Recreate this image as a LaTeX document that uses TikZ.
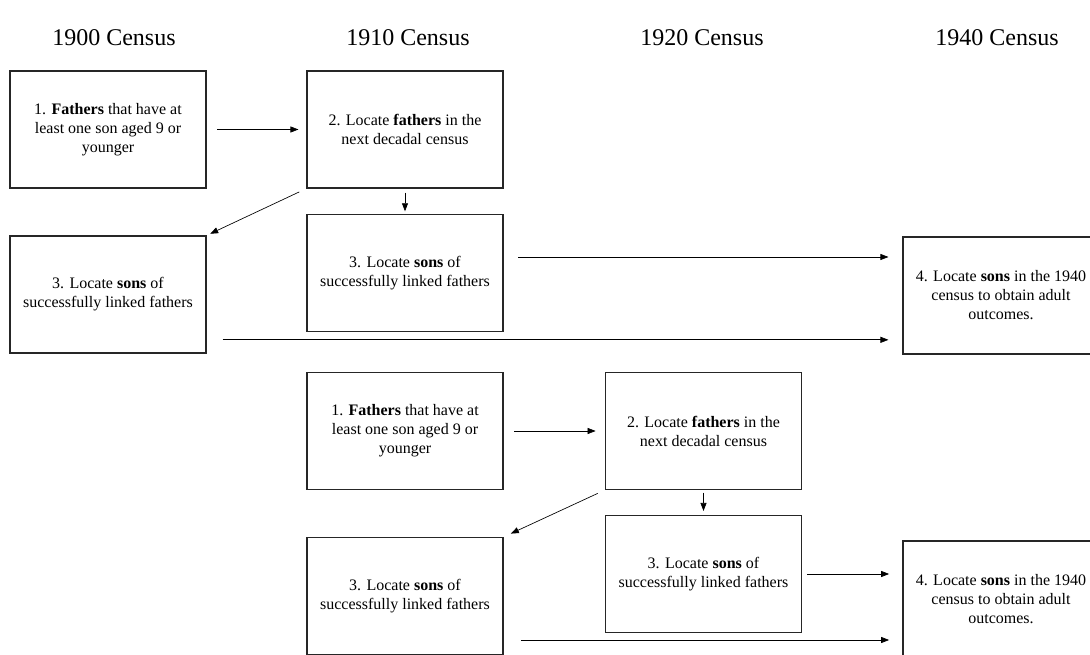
\documentclass[tikz,border=0pt]{standalone}
\usepackage{fontspec}
\setmainfont{Liberation Serif}
\usetikzlibrary{arrows.meta, positioning, calc}

\begin{document}
\begin{tikzpicture}[x=0.75pt, y=-0.75pt, >={Triangle[length=6pt, width=4.5pt]},
    stepbox/.style={draw=black!85, line width=0.8pt, minimum width=147pt, minimum height=87.75pt, inner sep=0pt, align=center, font=\fontsize{12}{14.25}\selectfont},
    year/.style={font=\fontsize{18}{20}\selectfont},
    flow/.style={->, line width=0.5pt}]
    \useasboundingbox (0, 0) rectangle (1090, 655);

    \node[year] (y1900) at (114, 38) {1900 Census};
    \node[year] (y1910) at (408, 38) {1910 Census};
    \node[year] (y1920) at (702, 38) {1920 Census};
    \node[year] (y1940) at (997, 38) {1940 Census};

    % 1900 fathers
    \node[stepbox] (fathersA) at (108, 129.5) {1. \textbf{Fathers} that have at\\least one son aged 9 or\\younger};
    \node[stepbox] (locateA) at (405, 129.5) {2. Locate \textbf{fathers} in the\\next decadal census};
    \node[stepbox] (sonsLeftA) at (108, 294.5) {3. Locate \textbf{sons} of\\successfully linked fathers};
    \node[stepbox] (sonsRightA) at (405, 273) {3. Locate \textbf{sons} of\\successfully linked fathers};
    \node[stepbox] (adultA) at (1001, 295.5) {4. Locate \textbf{sons} in the 1940\\census to obtain adult\\outcomes.};

    \draw[flow, shorten <=8pt, shorten >=6pt] (fathersA) -- (locateA);
    \draw[flow, shorten <=3pt, shorten >=2pt] (locateA) -- (sonsRightA);
    \draw[flow, shorten <=6pt, shorten >=3pt] (locateA.south west) -- (sonsLeftA.north east);
    \draw[flow, shorten <=11pt, shorten >=10.5pt] ([yshift=12pt]sonsRightA.east) -- ([yshift=12pt]sonsRightA.east -| adultA.west);
    \draw[flow, shorten <=12pt, shorten >=10.5pt] ([yshift=-34pt]sonsLeftA.east) -- ([yshift=-34pt]sonsLeftA.east -| adultA.west);

    % 1910 fathers
    \node[stepbox] (fathersB) at (405, 431) {1. \textbf{Fathers} that have at\\least one son aged 9 or\\younger};
    \node[stepbox] (locateB) at (703.5, 431) {2. Locate \textbf{fathers} in the\\next decadal census};
    \node[stepbox] (sonsLeftB) at (405, 596) {3. Locate \textbf{sons} of\\successfully linked fathers};
    \node[stepbox] (sonsRightB) at (703.5, 574) {3. Locate \textbf{sons} of\\successfully linked fathers};
    \node[stepbox] (adultB) at (1001, 599.5) {4. Locate \textbf{sons} in the 1940\\census to obtain adult\\outcomes.};

    \draw[flow, shorten <=8pt, shorten >=7pt] (fathersB) -- (locateB);
    \draw[flow, shorten <=2pt, shorten >=3pt] (locateB) -- (sonsRightB);
    \draw[flow, shorten <=6pt, shorten >=6pt] (locateB.south west) -- (sonsLeftB.north east);
    \draw[flow, shorten <=4pt, shorten >=10pt] (sonsRightB.east) -- (sonsRightB.east -| adultB.west);
    \draw[flow, shorten <=13pt, shorten >=10pt] ([yshift=-33pt]sonsLeftB.east) -- ([yshift=-33pt]sonsLeftB.east -| adultB.west);
\end{tikzpicture}
\end{document}
